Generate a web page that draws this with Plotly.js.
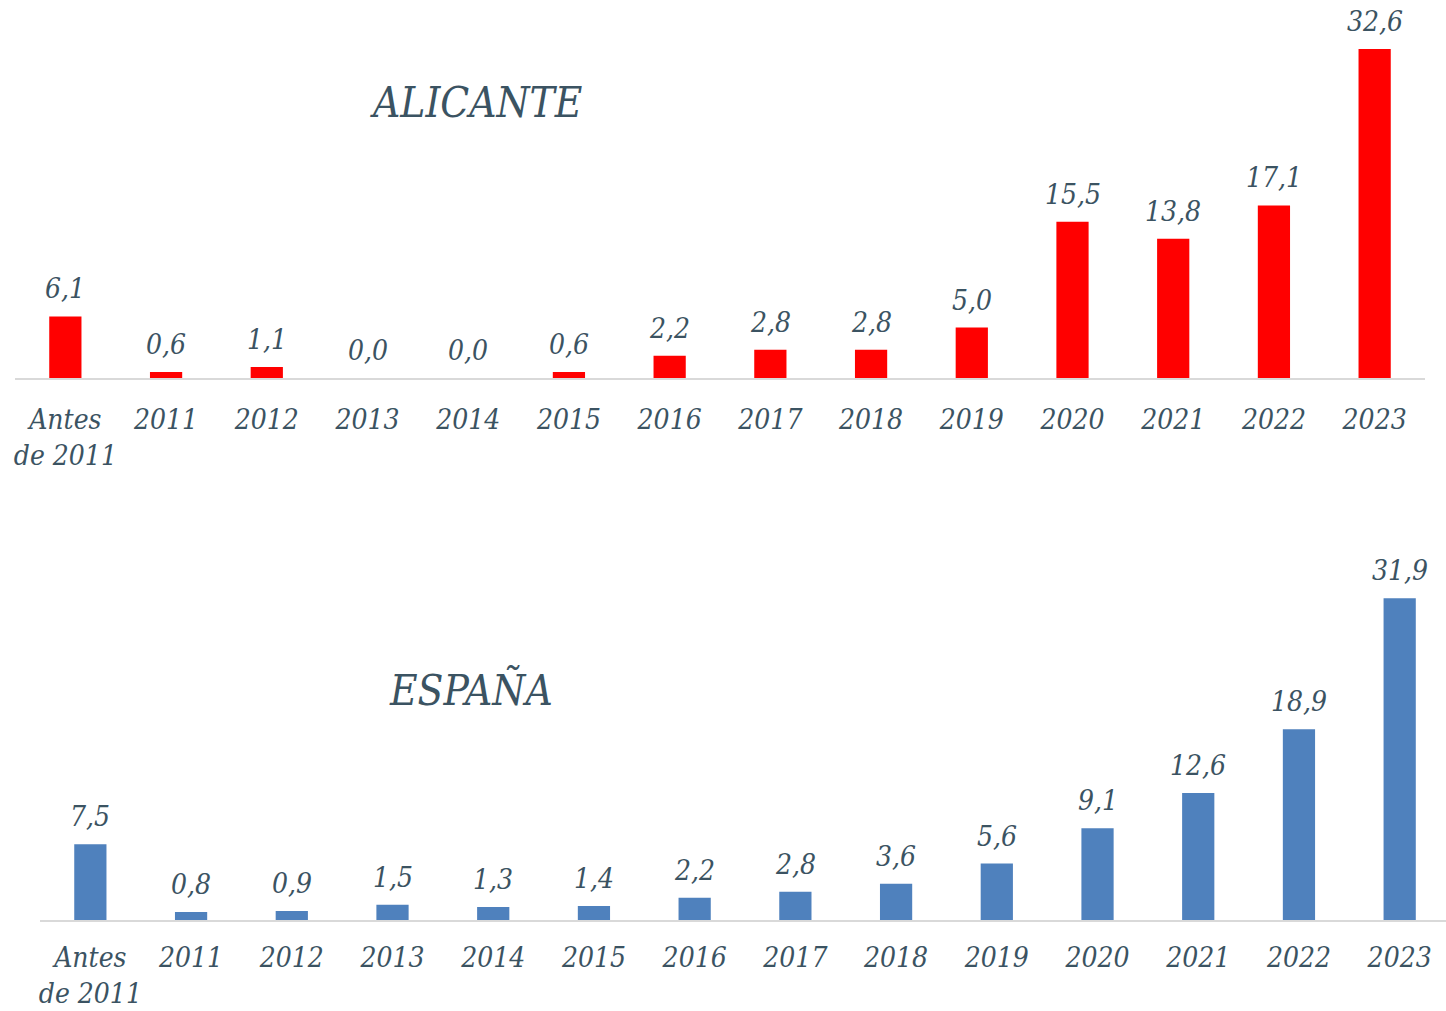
<!DOCTYPE html>
<html>
<head>
<meta charset="utf-8">
<script src="https://cdn.plot.ly/plotly-3.0.1.min.js"></script>
<style>html,body{margin:0;padding:0;background:#fff;}#chart{width:1446px;height:1011px;}</style>
</head>
<body>
<div id="chart"></div>
<script>
const categories = ["Antes<br>de 2011","2011","2012","2013","2014","2015","2016","2017","2018","2019","2020","2021","2022","2023"];
const alicanteValues = [6.1,0.6,1.1,0.0,0.0,0.6,2.2,2.8,2.8,5.0,15.5,13.8,17.1,32.6];
const espanaValues = [7.5,0.8,0.9,1.5,1.3,1.4,2.2,2.8,3.6,5.6,9.1,12.6,18.9,31.9];
const titleTop = "ALICANTE";
const titleBottom = "ESPAÑA";

const FONT = "'DejaVu Serif Condensed', 'DejaVu Serif', serif";
const TXT = "#3b5362";
const fmt = v => v.toFixed(1).replace('.', ',');

const traces = [
  {type:'bar', x:categories, y:alicanteValues, xaxis:'x', yaxis:'y', marker:{color:'#ff0000'}, hoverinfo:'none'},
  {type:'bar', x:categories, y:espanaValues, xaxis:'x2', yaxis:'y2', marker:{color:'#4f81bd'}, hoverinfo:'none'}
];

const annotations = [];
categories.forEach((c,i) => {
  annotations.push({x:i, y:alicanteValues[i], xref:'x', yref:'y', text:fmt(alicanteValues[i]), showarrow:false, yanchor:'bottom', yshift:9, font:{family:FONT, size:28, color:TXT, style:'italic'}});
  annotations.push({x:i, y:espanaValues[i], xref:'x2', yref:'y2', text:fmt(espanaValues[i]), showarrow:false, yanchor:'bottom', yshift:9, font:{family:FONT, size:28, color:TXT, style:'italic'}});
});
annotations.push({x:476/1446, y:1-102/1011, xref:'paper', yref:'paper', text:titleTop, showarrow:false, xanchor:'center', yanchor:'middle', font:{family:FONT, size:42, color:TXT, style:'italic'}});
annotations.push({x:471/1446, y:1-690/1011, xref:'paper', yref:'paper', text:titleBottom, showarrow:false, xanchor:'center', yanchor:'middle', font:{family:FONT, size:42, color:TXT, style:'italic'}});

const xcommon = {type:'category', showgrid:false, zeroline:false, showline:true, linecolor:'#d9d9d9', linewidth:2, ticks:'', ticklabelstandoff:15, tickfont:{family:FONT, size:28, color:TXT, style:'italic'}, fixedrange:true};
const ycommon = {range:[0,34], visible:false, fixedrange:true};

const layout = {
  width:1446, height:1011,
  margin:{l:0, r:0, t:0, b:0},
  paper_bgcolor:'#fff', plot_bgcolor:'#fff',
  showlegend:false,
  bargap:0.68,
  xaxis: Object.assign({}, xcommon, {domain:[15/1446, 1425/1446], range:[-0.5,13.5], anchor:'y'}),
  yaxis: Object.assign({}, ycommon, {domain:[1-378/1011, 1-35/1011], anchor:'x'}),
  xaxis2: Object.assign({}, xcommon, {domain:[40/1446, 1], range:[-0.5,13.46], anchor:'y2', ticklabelstandoff:11}),
  yaxis2: Object.assign({}, ycommon, {domain:[1-920/1011, 1-577/1011], anchor:'x2'}),
  annotations: annotations
};

Plotly.newPlot('chart', traces, layout, {displayModeBar:false, staticPlot:true});
</script>
</body>
</html>
